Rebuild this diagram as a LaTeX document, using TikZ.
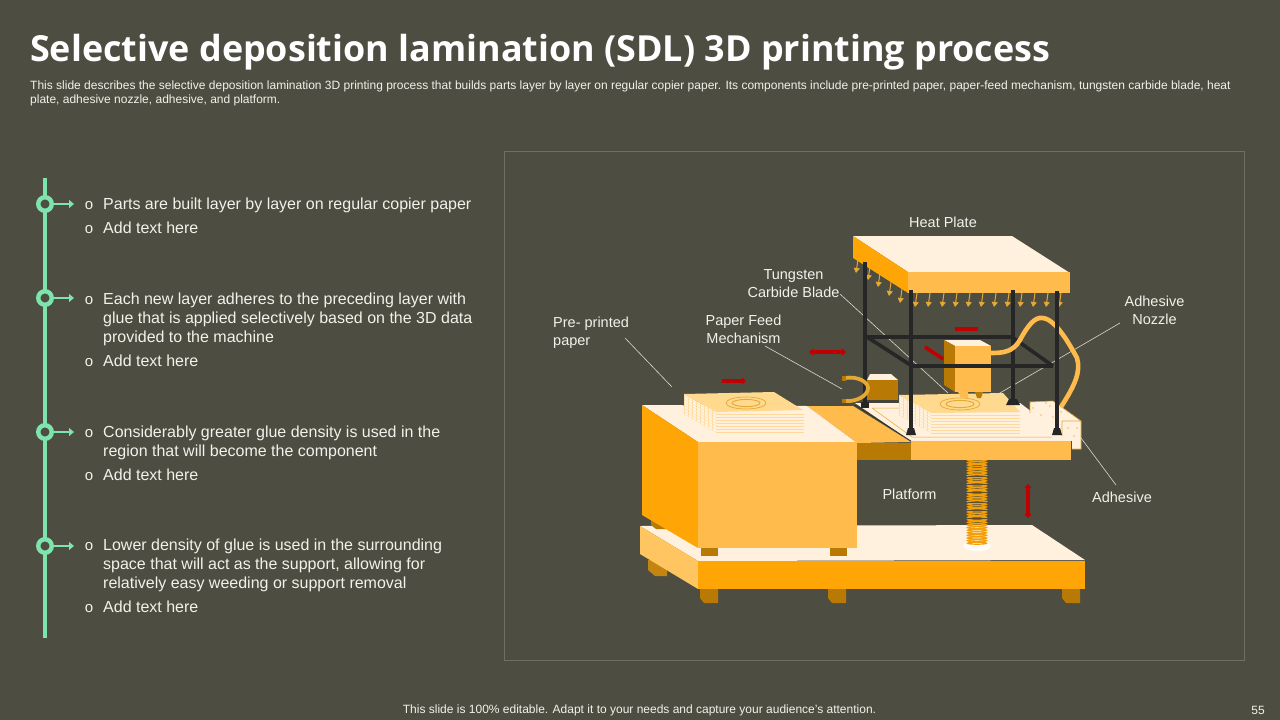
\documentclass[tikz,border=0pt]{standalone}
\usepackage{fontspec}
\setmainfont{Liberation Sans}
\newfontfamily\titlefont{Open Sans}
\usetikzlibrary{arrows.meta}
\definecolor{bgc}{HTML}{4D4D41}
\definecolor{txt}{HTML}{F2F2EC}
\definecolor{mint}{HTML}{7FE3AE}
\definecolor{panel}{HTML}{6F7064}
\definecolor{cream}{HTML}{FFF1DE}
\definecolor{org}{HTML}{FFA506}
\definecolor{lorg}{HTML}{FFBC4C}
\definecolor{pale}{HTML}{FFD98E}
\definecolor{dorg}{HTML}{B87A05}
\definecolor{tan}{HTML}{E4A835}
\definecolor{blk}{HTML}{262626}
\definecolor{redc}{HTML}{C00000}
\tikzset{
 lab/.style={text=txt,font=\fontsize{14.5}{18}\selectfont,align=center,inner sep=0pt},
 body/.style={text=txt,font=\fontsize{16}{19}\selectfont,anchor=north west,align=left,inner sep=0pt},
 bul/.style={text=txt,font=\fontsize{15}{15}\selectfont,inner sep=0pt},
 lead/.style={draw=txt!85!bgc,line width=.6pt},
 leg/.style={draw=blk,line width=4.5pt},
 bar/.style={draw=blk,line width=3.6pt},
 redarr/.style={draw=redc,line width=3.6pt,-{Triangle[length=4pt,width=7pt]}},
 redarr2/.style={draw=redc,line width=3.6pt,{Triangle[length=4pt,width=7pt]}-{Triangle[length=4pt,width=7pt]}},
 hook/.style={draw=tan,line width=3.8pt},
 tick/.style={draw=mint,line width=2.2pt,-{Triangle[length=5pt,width=8pt]}},
 ringn/.style={circle,draw=mint,line width=4.4pt,fill=bgc,minimum size=13.5pt,inner sep=0pt},
 drip/.style={draw=tan,line width=1pt,-{Triangle[length=5pt,width=6pt]}},
 stripe/.style={draw=lorg!45!cream,line width=.7pt},
}
\newcommand{\PaperStack}[6]{%
 \fill[cream!80!white] (#1,#4) -- (#2,#5) -- (#2,#6) -- (#1,#4+20) -- cycle;
 \foreach \k in {2,5,...,20}{\draw[lorg!40!cream,line width=.4pt] (#1,#4+\k) -- (#2,#5+\k);}
 \foreach \k in {0,4,...,32}{\draw[lorg!40!cream,line width=.3pt] (#1+\k,#4+\k*.56) -- ++(0,20);}
 \fill[cream] (#2,#5) rectangle (#3,#6);
 \foreach \k in {2,5,...,20}{\draw[stripe] (#2,#5+\k) -- (#3,#5+\k);}
}
\begin{document}
\begin{tikzpicture}[x=1pt,y=-1pt]
\useasboundingbox (0,0) rectangle (1280,720);
\fill[bgc] (0,0) rectangle (1280,720);
% title
\node[anchor=west,inner sep=0pt,text=white,font=\titlefont\bfseries\fontsize{35.9}{40}\selectfont] (title) at (30,52) {Selective deposition lamination (SDL) 3D printing process};
\node[anchor=north west,inner sep=0pt,text=txt,align=left,font=\fontsize{12}{14}\selectfont] (sub) at (30,80.5) {This slide describes the selective deposition lamination 3D printing process that builds parts layer by layer on regular copier paper. Its components include pre-printed paper, paper-feed mechanism, tungsten carbide blade, heat\\plate, adhesive nozzle, adhesive, and platform.};
\node[anchor=center,inner sep=0pt,text=txt,font=\fontsize{12}{14}\selectfont] (foot) at (639.5,710.5) {This slide is 100\% editable. Adapt it to your needs and capture your audience's attention.};
\node[anchor=center,inner sep=0pt,text=txt,font=\fontsize{12}{14}\selectfont] (page) at (1258,710.5) {55};
% panel
\draw[panel,line width=.8pt] (504.5,151.5) rectangle (1244.5,660);
% timeline
\coordinate (tlt) at (45,178); \coordinate (tlb) at (45,638);
\draw[mint,line width=3.2pt] (tlt) -- (tlb);
\foreach \n/\y in {a/204,b/298,c/432,d/546}{
 \node[ringn] (r\n) at (45,\y) {};
 \coordinate (e\n) at (74,\y);
 \draw[tick] (r\n) -- (e\n);
}
% body text
\node[bul] (o1) at (89,205.5) {o};
\node[body] (t1) at (103,198) {Parts are built layer by layer on regular copier paper};
\node[bul] (o2) at (89,229.5) {o};
\node[body] (t2) at (103,222) {Add text here};
\node[bul] (o3) at (89,300.5) {o};
\node[body] (t3) at (103,293) {Each new layer adheres to the preceding layer with\\glue that is applied selectively based on the 3D data\\provided to the machine};
\node[bul] (o4) at (89,362.5) {o};
\node[body] (t4) at (103,355) {Add text here};
\node[bul] (o5) at (89,433.5) {o};
\node[body] (t5) at (103,426) {Considerably greater glue density is used in the\\region that will become the component};
\node[bul] (o6) at (89,476.5) {o};
\node[body] (t6) at (103,469) {Add text here};
\node[bul] (o7) at (89,546.5) {o};
\node[body] (t7) at (103,539) {Lower density of glue is used in the surrounding\\space that will act as the support, allowing for\\relatively easy weeding or support removal};
\node[bul] (o8) at (89,608.5) {o};
\node[body] (t8) at (103,601) {Add text here};
% base feet
\fill[dorg!85!lorg] (648,560) -- (660,560) -- (667,566) -- (667,576) -- (655,576) -- (648,570) -- cycle;
\foreach \x in {700,828,1062}{\fill[dorg] (\x,589) -- (\x+18,589) -- (\x+18,603) -- (\x+4,603) -- (\x,598) -- cycle;}
% base
\fill[cream] (640,526) -- (1032,525) -- (1085,560) -- (698,561) -- cycle;
\fill[lorg!70!pale] (640,526) -- (698,561) -- (698,589) -- (640,554) -- cycle;
\fill[org] (698,561) rectangle (1085,589);
% block feet
\fill[dorg] (651,518) -- (664,526) -- (666,529) -- (656,529) -- (651,525) -- cycle;
\foreach \x in {701,830}{\fill[dorg] (\x,548) rectangle (\x+17,556);}
% screw
\fill[white!80!cream] (977,546) ellipse (14 and 5);
\foreach \k in {0,...,32}{
 \pgfmathsetmacro{\yy}{460+\k*2.6}
 \draw[org!85!dorg,line width=1.2pt] (977,\yy) ellipse (9.5pt and 1pt);
}
\foreach \yy in {476,484,492,502,510,518}{\draw[blk!70!tan,line width=.8pt] (968,\yy) -- (986,\yy);}
% orange shelf
\fill[lorg] (807,406) -- (853,406) -- (911,442) -- (857,443) -- cycle;
\fill[dorg] (857,443) rectangle (911,460);
% platform
\fill[cream] (855,403) -- (1020,403) -- (1071,441) -- (911,441) -- cycle;
\fill[lorg] (911,441) rectangle (1071,460);
\draw[blk,line width=.5pt] (855,405) -- (911,441);
\draw[tan,line width=.5pt] (872,408) -- (900,408) (872,408) -- (912,437) -- (1052,437);
% adhesive
\fill[cream] (1030,402) -- (1053,401) -- (1081,421) -- (1081,449) -- (1072,449) -- (1072,441) -- (1052,437) -- (1020,410) -- (1030,413) -- cycle;
\draw[tan,line width=.6pt] (1030,413) -- (1030,402) -- (1053,401) -- (1081,421) -- (1081,449) -- (1072,449) (1062,421) -- (1081,421) (1062,421) -- (1062,436);
\foreach \x/\y in {1033/408,1046/403,1050/406,1041/415,1053/417,1061/412,1068/428,1077/428,1074/436,1058/425}{\fill[pale!80!tan] (\x,\y) circle (1.2);}
% pre-printed cabinet
\fill[cream] (642,405) -- (807,406) -- (857,443) -- (698,442) -- cycle;
\fill[org] (642,405) -- (698,442) -- (698,548) -- (642,515) -- cycle;
\fill[lorg] (698,442) rectangle (857,548);
% stacks
\PaperStack{684}{716}{804}{394}{412}{433}
\fill[pale] (684,394) -- (774,392) -- (803,410) -- (716,412) -- cycle;
\PaperStack{899}{931}{1020}{395}{413}{435}
\fill[pale] (899,395) -- (1003,393) -- (1020,412) -- (931,413) -- cycle;
\foreach \x/\y in {746/403,960/404}{
 \draw[tan,line width=.7pt] (\x,\y) ellipse (20 and 6);
 \draw[tan,line width=.9pt] (\x,\y) ellipse (14 and 3.6);
}
% feed box
\fill[cream] (867,380) -- (870,374) -- (891,374) -- (898,380) -- cycle;
\fill[dorg] (867,380) rectangle (898,400);
\fill[bgc!85!black] (867,400) rectangle (898,403);
% heat plate
\foreach \x/\y in {857/259,869/266,879/273,890/282,901/289}{\draw[drip] (\x+1,\y) -- (\x-1,\y+14);}
\foreach \x in {916,929,943,956,969,982,995,1008,1021,1034,1047,1060}{\draw[drip] (\x+1,293) -- (\x-1,307);}
\fill[cream] (853,236) -- (1012,236) -- (1070,273) -- (908,272) -- cycle;
\fill[org] (853,236) -- (908,272) -- (908,293) -- (853,258) -- cycle;
\fill[lorg] (908,272) rectangle (1070,293);
% leaders behind the frame
\coordinate (lTa) at (840,294); \coordinate (lTb) at (948,393);
\draw[lead] (lTa) -- (lTb);
\coordinate (lNa) at (1120,323); \coordinate (lNb) at (993,397);
\draw[lead] (lNa) -- (lNb);
% rear legs and frame
\draw[leg] (865,262) -- (865,404);
\fill[blk] (861,402) rectangle (869,408);
\draw[leg] (1013,290) -- (1013,400);
\fill[blk] (1009,399) -- (1017,399) -- (1020,405) -- (1006,405) -- cycle;
\draw[bar] (867,337) -- (1012,337);
\draw[bar] (867,337) -- (912,366);
\draw[bar] (1012,337) -- (1053,366);
% hook
\draw[hook] (845,378) .. controls (858,376) and (868,382) .. (868,388) .. controls (868,396) and (856,402) .. (845,401);
\fill[dorg] (842,376) rectangle (846,380.5);
\fill[dorg] (842,399) rectangle (846,403);
% hose
\draw[lorg,line width=4.6pt] (991,353) .. controls (1003,353) and (1013,352) .. (1020,340) .. controls (1028,325) and (1035,317) .. (1042,318) .. controls (1055,318) and (1070,345) .. (1077,358) .. controls (1081,372) and (1075,385) .. (1061,407);
% print head
\fill[cream] (944,340) -- (980,340) -- (991,346) -- (955,346) -- cycle;
\fill[dorg] (944,340) -- (955,346) -- (955,392) -- (944,385) -- cycle;
\fill[lorg] (955,346) rectangle (991,392);
\fill[lorg] (958,392) -- (968,392) -- (968,398) -- (961,398) -- cycle;
\fill[dorg] (975,392) -- (983,392) -- (981,398) -- (977,398) -- cycle;
% front frame and legs
\draw[bar] (912,366) -- (1053,366);
\draw[leg] (911,290) -- (911,432);
\fill[blk] (908,428) -- (914,428) -- (916,435) -- (906,435) -- cycle;
\draw[leg] (1057,291) -- (1057,432);
\fill[blk] (1054,428) -- (1060,428) -- (1062,435) -- (1052,435) -- cycle;
% red arrows
\coordinate (ra1) at (722,381); \coordinate (ra2) at (746,381);
\draw[redarr] (ra1) -- (ra2);
\coordinate (rb1) at (809,352); \coordinate (rb2) at (846,352);
\draw[redarr2] (rb1) -- (rb2);
\coordinate (rc1) at (955,329); \coordinate (rc2) at (978,329);
\draw[redc,line width=3.6pt] (rc1) -- (rc2);
\coordinate (rd1) at (925,347); \coordinate (rd2) at (943,359);
\draw[redc,line width=3.6pt] (rd1) -- (rd2);
\coordinate (re1) at (1028,484); \coordinate (re2) at (1028,518);
\draw[redarr2] (re1) -- (re2);
% labels
\node[lab] (lHeat) at (943,222) {Heat Plate};
\node[lab] (lTung) at (793.5,283.5) {Tungsten\\Carbide Blade};
\node[lab] (lFeed) at (743.5,329) {Paper Feed\\Mechanism};
\node[lab,align=left,anchor=west] (lPre) at (553,332.5) {Pre- printed\\paper};
\node[lab] (lNoz) at (1154.5,310) {Adhesive\\Nozzle};
\node[lab] (lPlat) at (909.5,494) {Platform};
\node[lab] (lAdh) at (1122,497) {Adhesive};
% leaders
\coordinate (lPa) at (625,338); \coordinate (lPb) at (672,387);
\draw[lead] (lPa) -- (lPb);
\coordinate (lFa) at (765,346); \coordinate (lFb) at (842,389);
\draw[lead] (lFa) -- (lFb);
\coordinate (lAa) at (1081,438); \coordinate (lAb) at (1116,485);
\draw[lead] (lAa) -- (lAb);
\end{tikzpicture}
\end{document}
